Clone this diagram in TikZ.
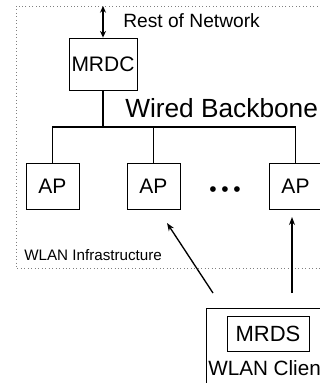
\documentclass[tikz,border=0pt]{standalone}
\usepackage{fontspec}
\setmainfont{Liberation Sans}
\usetikzlibrary{arrows.meta}

\begin{document}
\begin{tikzpicture}[
  x=0.75pt, y=-0.75pt,
  box/.style={draw, line width=0.6pt, inner sep=0pt, font=\fontsize{15.75}{18}\selectfont},
  ap/.style={box, minimum width=39.75pt, minimum height=34.5pt},
  tag/.style={anchor=west, inner sep=0pt},
  bus/.style={draw, line width=1pt},
  link/.style={draw, line width=1pt, -{Stealth[length=6pt,width=4.5pt]}}
]
  \useasboundingbox (0,0) rectangle (320,383);
  % infrastructure area
  \draw[gray, dotted, line width=0.6pt] (16,6) rectangle (345,268);
  \node[tag, font=\fontsize{11.4}{13}\selectfont] (infra) at (24,255) {WLAN Infrastructure};

  \node[box, minimum width=51pt, minimum height=39pt] (mrdc) at (103,64) {MRDC};
  \coordinate (net) at (103,6);
  \draw[line width=1pt, {Stealth[length=5pt,width=4.5pt]}-{Stealth[length=5pt,width=4.5pt]}] (net) -- (mrdc.north);
  \node[tag, font=\fontsize{14.4}{17}\selectfont] (rest) at (123,21) {Rest of Network};

  \node[ap] (ap1) at (52.5,186) {AP};
  \node[ap] (ap2) at (153.5,186) {AP};
  \node[ap] (ap3) at (295.5,186) {AP};
  \node[inner sep=0pt, font=\fontsize{15.75}{18}\selectfont] (dots) at (225,192) {\textbullet\hspace{3.5pt}\textbullet\hspace{3.5pt}\textbullet};

  % wired backbone
  \coordinate (bb) at (0,127);
  \draw[bus, line width=1.4pt] (mrdc.south) -- (mrdc.south |- bb);
  \draw[bus] (ap1.north) |- (bb -| ap3.north) -- (ap3.north);
  \draw[bus] (ap2.north) -- (ap2.north |- bb);
  \node[tag, font=\fontsize{19.7}{22}\selectfont] (wired) at (125,108) {Wired Backbone};

  % client
  \node[draw, line width=0.6pt, minimum width=93pt, minimum height=63pt, anchor=north west] (client) at (206,308) {};
  \node[box, minimum width=61.5pt, minimum height=26.25pt, font=\fontsize{16.5}{19}\selectfont] (mrds) at (268,333.5) {MRDS};
  \node[tag, font=\fontsize{15.5}{18}\selectfont] (cltext) at (208,368) {WLAN Client};

  \coordinate (c1) at (213,293);
  \coordinate (t1) at (167,223);
  \coordinate (c2) at (292,293);
  \coordinate (t2) at (292,217);
  \draw[link] (c1) -- (t1);
  \draw[link] (c2) -- (t2);
\end{tikzpicture}
\end{document}
